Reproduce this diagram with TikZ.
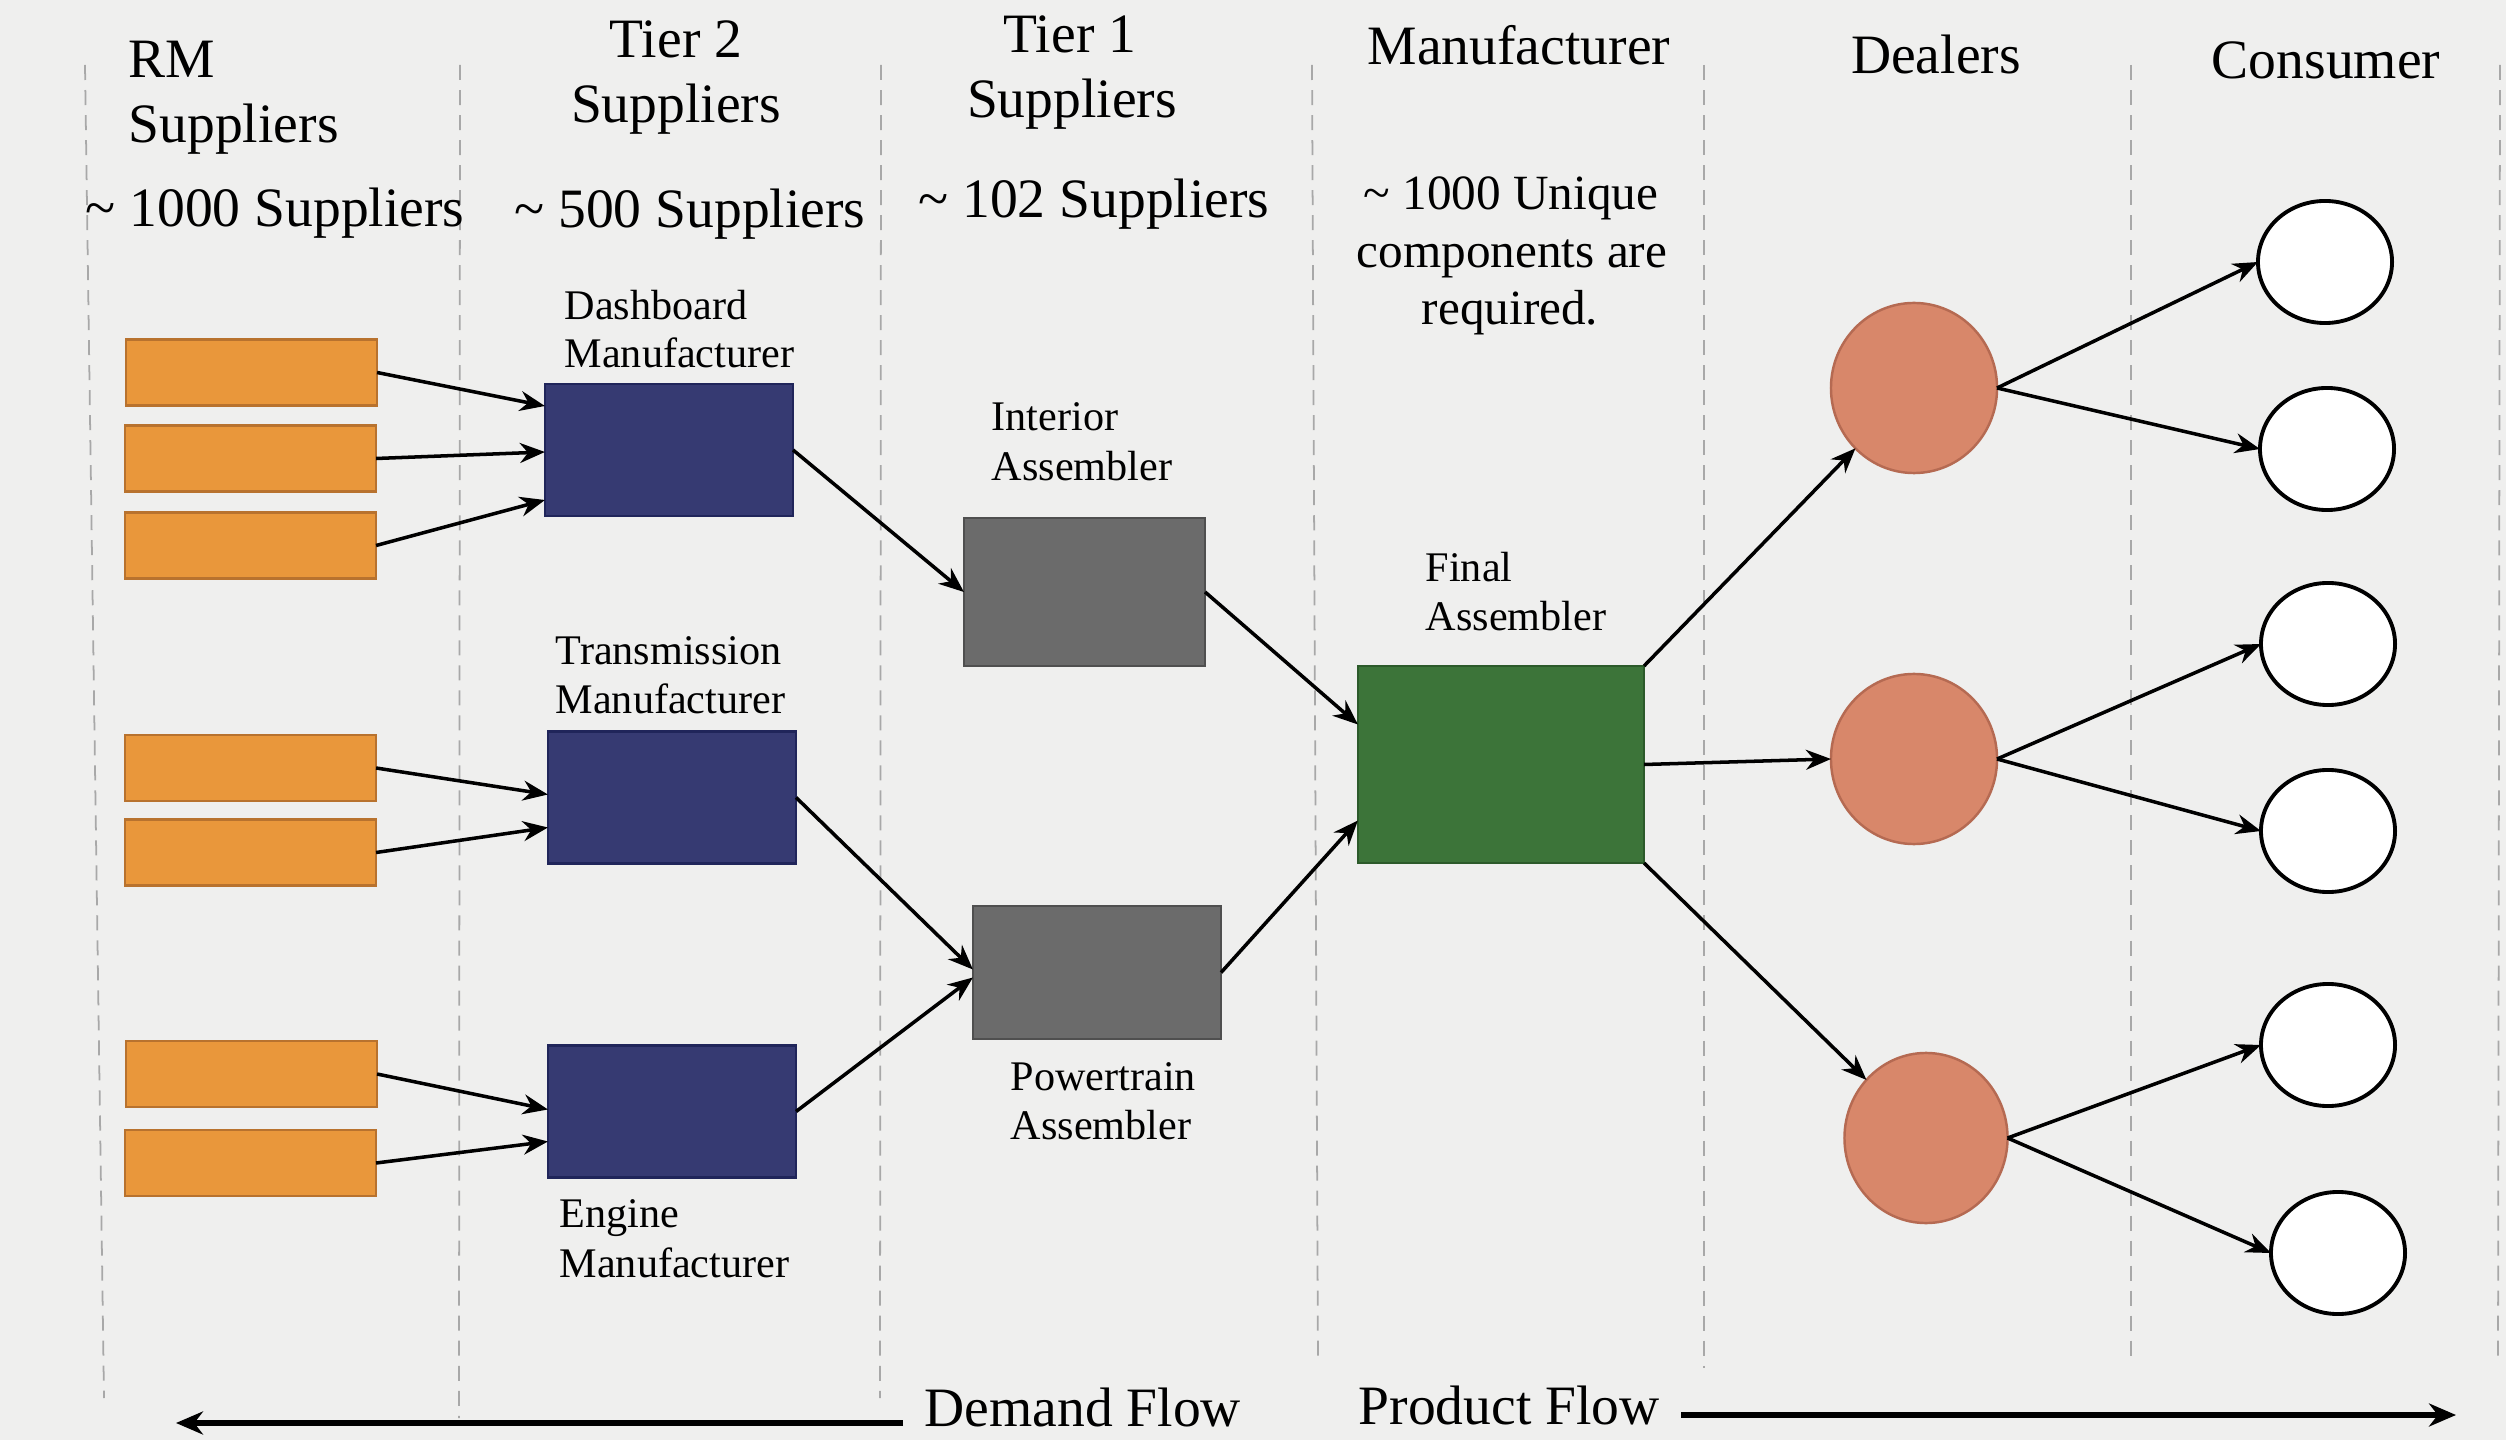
\documentclass[tikz,border=0pt]{standalone}
\usepackage{fontspec}
\setmainfont{Liberation Serif}
\usetikzlibrary{arrows.meta,calc,shapes.geometric}
\definecolor{bgc}{HTML}{EFEFEE}
\definecolor{dashc}{HTML}{A8A8A8}
\definecolor{orangef}{HTML}{E9973B}
\definecolor{orangeb}{HTML}{B8722E}
\definecolor{navyf}{HTML}{363A72}
\definecolor{navyb}{HTML}{20255A}
\definecolor{grayf}{HTML}{6B6B6B}
\definecolor{grayb}{HTML}{4F4F4F}
\definecolor{greenf}{HTML}{3C7439}
\definecolor{greenb}{HTML}{2C5A2A}
\definecolor{dealf}{HTML}{D8876A}
\definecolor{dealb}{HTML}{B56A52}
\begin{document}
\begin{tikzpicture}[x=0.01cm,y=-0.01cm,
  hdr/.style={font=\fontsize{15.8}{18}\selectfont, inner sep=0, anchor=base},
  hdrw/.style={hdr, anchor=base west},
  lbl/.style={font=\fontsize{12}{14}\selectfont, inner sep=0, anchor=base west},
  note/.style={font=\fontsize{14}{16}\selectfont, inner sep=0, anchor=base},
  divider/.style={draw=dashc, line width=0.5pt, dash pattern=on 0.15cm off 0.1cm},
  rmbox/.style={rectangle, draw=orangeb, fill=orangef, line width=0.7pt, minimum width=2.51cm, minimum height=0.66cm, inner sep=0, outer sep=0},
  tiertwo/.style={rectangle, draw=navyb, fill=navyf, line width=0.7pt, minimum width=2.48cm, minimum height=1.32cm, inner sep=0, outer sep=0},
  tierone/.style={rectangle, draw=grayb, fill=grayf, line width=0.7pt, inner sep=0, outer sep=0},
  finalbox/.style={rectangle, draw=greenb, fill=greenf, line width=0.7pt, minimum width=2.86cm, minimum height=1.97cm, inner sep=0, outer sep=0},
  dealer/.style={ellipse, draw=dealb, fill=dealf, line width=0.7pt, minimum width=1.66cm, minimum height=1.70cm, inner sep=0, outer sep=0},
  consumer/.style={ellipse, draw=black, fill=white, line width=1.1pt, minimum width=1.34cm, minimum height=1.22cm, inner sep=0, outer sep=0},
  conn/.style={-{Stealth[length=0.25cm,width=0.2cm]}, line width=1pt, black},
  flow/.style={-{Stealth[length=0.27cm,width=0.23cm]}, line width=1.5pt, black}
]
\fill[bgc] (0,0) rectangle (2506,1440);
\useasboundingbox (0,0) rectangle (2506,1440);

% column dividers
\draw[divider] (85,65) -- (104,1398);
\draw[divider] (460,65) -- (459,1418);
\draw[divider] (881,65) -- (880,1398);
\draw[divider] (1312,65) -- (1318,1365);
\draw[divider] (1704,65) -- (1704,1368);
\draw[divider] (2131,65) -- (2131,1365);
\draw[divider] (2500,65) -- (2498,1363);

% headers
\node[hdrw] (h-rm1) at (128,78) {RM};
\node[hdrw] (h-rm2) at (128,143) {Suppliers};
\node[hdrw] (h-rm3) at (85,227) {\textasciitilde{} 1000 Suppliers};
\node[hdr] (h-t21) at (676,58) {Tier 2};
\node[hdr] (h-t22) at (676,123) {Suppliers};
\node[hdr] (h-t23) at (690,228) {\textasciitilde{} 500 Suppliers};
\node[hdr] (h-t11) at (1070,53) {Tier 1};
\node[hdr] (h-t12) at (1072,118) {Suppliers};
\node[hdr] (h-t13) at (1094,218) {\textasciitilde{} 102 Suppliers};
\node[hdr] (h-man) at (1519,65) {Manufacturer};
\node[hdr] (h-deal) at (1936,74) {Dealers};
\node[hdr] (h-cons) at (2326,79) {Consumer};
\node[note] (n-1) at (1511,210) {\textasciitilde{} 1000 Unique};
\node[note] (n-2) at (1512,268) {components are};
\node[note] (n-3) at (1510,325) {required.};

% raw material suppliers
\node[rmbox] (o1) at (251.5,372.5) {};
\node[rmbox] (o2) at (250.5,458.5) {};
\node[rmbox] (o3) at (250.5,545.5) {};
\node[rmbox] (o4) at (250.5,768) {};
\node[rmbox] (o5) at (250.5,852.5) {};
\node[rmbox] (o6) at (251.5,1074) {};
\node[rmbox] (o7) at (250.5,1163) {};

% tier 2
\node[tiertwo] (dash) at (669,450) {};
\node[tiertwo] (trans) at (672,797.5) {};
\node[tiertwo] (eng) at (672,1111.5) {};
\node[lbl] (l-dash1) at (564,320) {Dashboard};
\node[lbl] (l-dash2) at (564,368) {Manufacturer};
\node[lbl] (l-trans1) at (555,665) {Transmission};
\node[lbl] (l-trans2) at (555,714) {Manufacturer};
\node[lbl] (l-eng1) at (559,1227) {Engine};
\node[lbl] (l-eng2) at (559,1277) {Manufacturer};

% tier 1
\node[tierone, minimum width=2.41cm, minimum height=1.48cm] (inter) at (1084.5,592) {};
\node[tierone, minimum width=2.48cm, minimum height=1.33cm] (power) at (1097,972.5) {};
\node[lbl] (l-int1) at (991,431) {Interior};
\node[lbl] (l-int2) at (991,481) {Assembler};
\node[lbl] (l-pow1) at (1010,1090) {Powertrain};
\node[lbl] (l-pow2) at (1010,1139) {Assembler};

% manufacturer
\node[finalbox] (final) at (1501,764.5) {};
\node[lbl] (l-fin1) at (1425,582) {Final};
\node[lbl] (l-fin2) at (1425,631) {Assembler};

% dealers
\node[dealer] (d1) at (1914,388) {};
\node[dealer] (d2) at (1914,759) {};
\node[dealer, minimum width=1.63cm] (d3) at (1926,1138) {};

% consumers
\node[consumer] (c1) at (2325,262) {};
\node[consumer] (c2) at (2327,449) {};
\node[consumer] (c3) at (2328,644) {};
\node[consumer] (c4) at (2328,831) {};
\node[consumer] (c5) at (2328,1045) {};
\node[consumer] (c6) at (2338,1253) {};

% connectors
\draw[conn] (o1.east) -- ($(dash.west)+(0,-44)$);
\draw[conn] (o2.east) -- ($(dash.west)+(0,2)$);
\draw[conn] (o3.east) -- ($(dash.west)+(0,50)$);
\draw[conn] (o4.east) -- ($(trans.west)+(0,-3)$);
\draw[conn] (o5.east) -- ($(trans.west)+(0,30)$);
\draw[conn] (o6.east) -- ($(eng.west)+(0,-2)$);
\draw[conn] (o7.east) -- ($(eng.west)+(0,30)$);
\draw[conn] (dash.east) -- (inter.west);
\draw[conn] (trans.east) -- ($(power.west)+(0,-3)$);
\draw[conn] (eng.east) -- ($(power.west)+(0,5)$);
\draw[conn] (inter.east) -- ($(final.west)+(0,-40)$);
\draw[conn] (power.east) -- ($(final.west)+(0,56)$);
\draw[conn] (final.north east) -- (d1);
\draw[conn] (final.east) -- (d2.west);
\draw[conn] (final.south east) -- (d3);
\draw[conn] (d1.east) -- (c1.west);
\draw[conn] (d1.east) -- (c2.west);
\draw[conn] (d2.east) -- (c3.west);
\draw[conn] (d2.east) -- (c4.west);
\draw[conn] (d3.east) -- (c5.west);
\draw[conn] (d3.east) -- (c6.west);

% flows
\node[hdrw] (dem) at (924,1426) {Demand Flow};
\node[hdrw] (prod) at (1358,1424) {Product Flow};
\coordinate (dstart) at (903,1423);
\coordinate (dend) at (176,1423);
\coordinate (pstart) at (1681,1415);
\coordinate (pend) at (2456,1415);
\draw[flow] (dstart) -- (dend);
\draw[flow] (pstart) -- (pend);
\end{tikzpicture}
\end{document}
